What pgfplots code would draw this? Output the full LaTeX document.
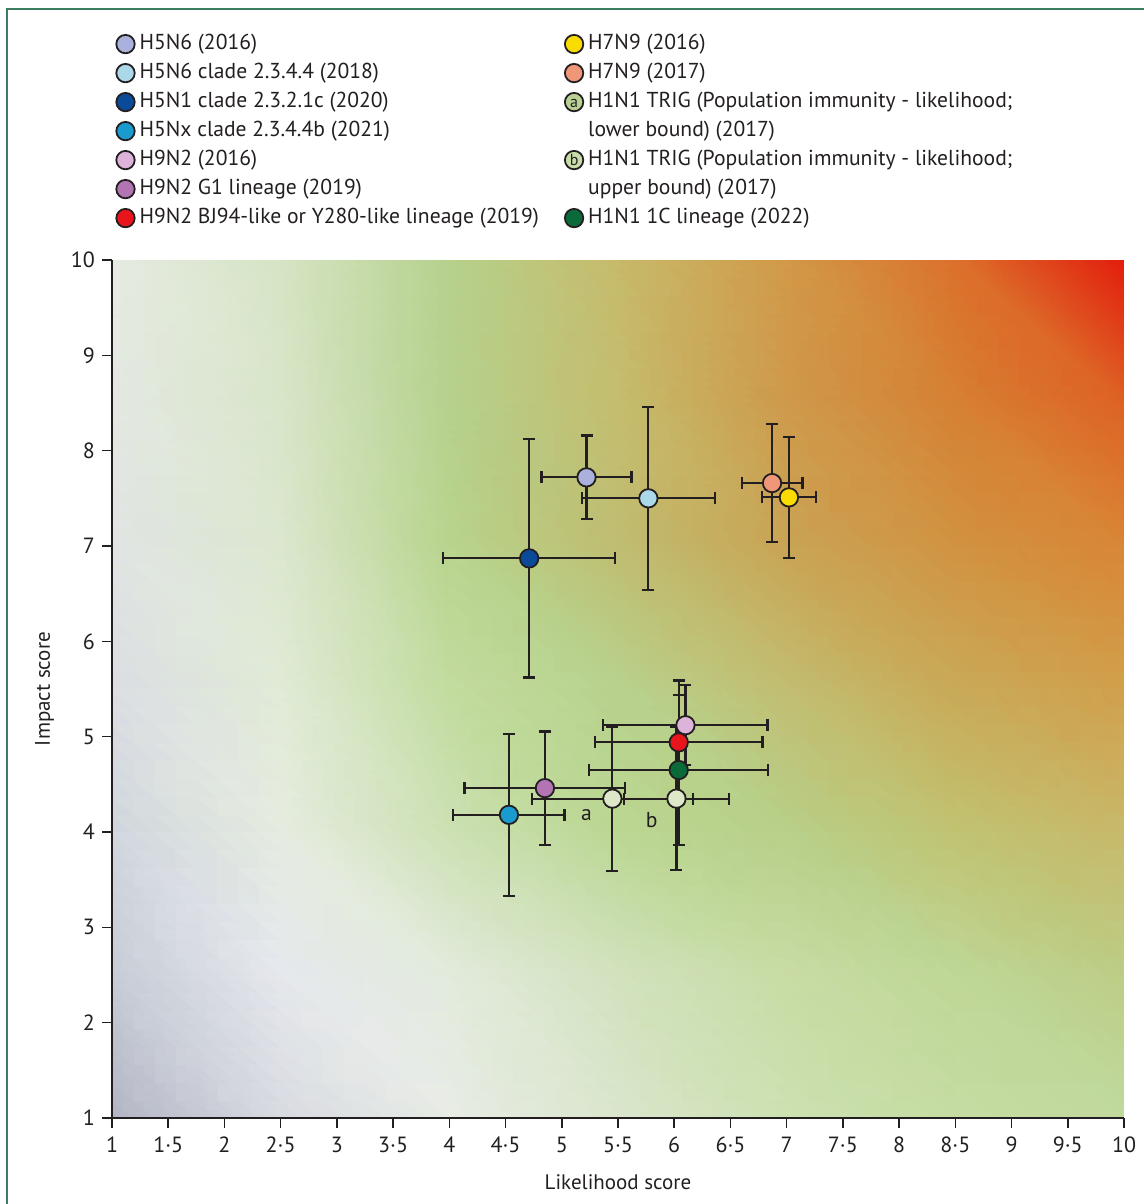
\documentclass[border=0pt]{standalone}
\usepackage{pgfplots}
\usepackage{pgfplotstable}
\pgfplotsset{compat=1.18}
\usepackage{fontspec}
\setmainfont{PT Sans}
\definecolor{txt}{HTML}{231F20}
\definecolor{frm}{HTML}{3B7D5E}
\definecolor{cA}{HTML}{A9B1DC}
\definecolor{cB}{HTML}{ABD9E9}
\definecolor{cC}{HTML}{0B4A98}
\definecolor{cD}{HTML}{1A9BCF}
\definecolor{cE}{HTML}{DDB3D9}
\definecolor{cF}{HTML}{B374B3}
\definecolor{cG}{HTML}{E8151C}
\definecolor{cH}{HTML}{FADC00}
\definecolor{cI}{HTML}{F09679}
\definecolor{cJ}{HTML}{DDE8C9}
\definecolor{cJa}{HTML}{B9D293}
\definecolor{cJb}{HTML}{C9DDA9}
\definecolor{cK}{HTML}{0A6A3A}

\pgfplotstableread{
x y ex ey c
5.22 7.72 0.40 0.44 A
5.77 7.50 0.59 0.96 B
4.71 6.87 0.765 1.25 C
4.53 4.18 0.495 0.85 D
6.10 5.12 0.73 0.42 E
4.85 4.46 0.715 0.595 F
6.04 4.94 0.745 0.65 G
7.02 7.51 0.24 0.635 H
6.87 7.66 0.27 0.62 I
5.45 4.35 0.715 0.755 J
6.02 4.35 0.465 0.75 J
6.04 4.65 0.795 0.785 K
}\pts

\pgfplotstableread{
x y c
1 1 rgb=.70,.71,.77
2.5 1 rgb=.85,.86,.885
4 1 rgb=.91,.925,.90
5.5 1 rgb=.855,.90,.80
7 1 rgb=.80,.88,.69
8.5 1 rgb=.77,.86,.63
10 1 rgb=.75,.85,.61
1 2.5 rgb=.78,.80,.84
2.5 2.5 rgb=.90,.91,.925
4 2.5 rgb=.885,.92,.86
5.5 2.5 rgb=.82,.885,.74
7 2.5 rgb=.78,.86,.64
8.5 2.5 rgb=.745,.84,.585
10 2.5 rgb=.74,.80,.52
1 4 rgb=.82,.84,.87
2.5 4 rgb=.90,.925,.875
4 4 rgb=.80,.88,.70
5.5 4 rgb=.73,.84,.57
7 4 rgb=.72,.81,.53
8.5 4 rgb=.755,.76,.44
10 4 rgb=.785,.72,.41
1 5.5 rgb=.86,.87,.89
2.5 5.5 rgb=.88,.92,.84
4 5.5 rgb=.76,.86,.62
5.5 5.5 rgb=.72,.82,.55
7 5.5 rgb=.76,.74,.44
8.5 5.5 rgb=.79,.66,.34
10 5.5 rgb=.82,.62,.29
1 7 rgb=.88,.895,.89
2.5 7 rgb=.86,.905,.81
4 7 rgb=.72,.83,.55
5.5 7 rgb=.75,.74,.44
7 7 rgb=.79,.64,.33
8.5 7 rgb=.82,.57,.25
10 7 rgb=.85,.52,.21
1 8.5 rgb=.89,.91,.885
2.5 8.5 rgb=.85,.90,.79
4 8.5 rgb=.71,.82,.55
5.5 8.5 rgb=.77,.74,.43
7 8.5 rgb=.81,.60,.29
8.5 8.5 rgb=.84,.50,.20
10 8.5 rgb=.87,.38,.14
1 10 rgb=.90,.92,.885
2.5 10 rgb=.84,.895,.77
4 10 rgb=.71,.82,.55
5.5 10 rgb=.78,.73,.42
7 10 rgb=.82,.60,.28
8.5 10 rgb=.86,.44,.17
10 10 rgb=.89,.11,.05
}\bg

\newcommand{\lf}{\fontsize{10.8}{13}\selectfont}

\begin{document}
\begin{tikzpicture}
\begin{axis}[name=ax, scale only axis, width=506pt, height=429pt,
  xmin=1, xmax=10, ymin=1, ymax=10,
  axis lines*=left, axis line style={-, line width=1pt, draw=txt},
  axis on top,
  tick align=outside, major tick length=5pt,
  tick style={line width=0.8pt, draw=txt},
  xtick={1,1.5,2,2.5,3,3.5,4,4.5,5,5.5,6,6.5,7,7.5,8,8.5,9,9.5,10},
  xticklabels={1,1·5,2,2·5,3,3·5,4,4·5,5,5·5,6,6·5,7,7·5,8,8·5,9,9·5,10},
  ytick={1,2,3,4,5,6,7,8,9,10},
  /pgf/number format/assume math mode=true,
  ticklabel style={font=\fontsize{11}{13}\selectfont, text=txt},
  xticklabel style={yshift=-1pt},
  legend columns=2,
  legend cell align=left,
  legend style={at={(rel axis cs:0,1)}, anchor=south west, xshift=1.5pt, yshift=15pt,
    draw=none, fill=none, inner sep=0pt, font=\lf, text=txt,
    nodes={inner xsep=2pt, inner ysep=0pt, text height=8.5pt, text depth=3pt},
    row sep=3pt,
    /tikz/every even column/.append style={column sep=10.5pt}},
]
\addplot[surf, shader=interp, mesh/color input=explicit, point meta=explicit symbolic,
  mesh/cols=7, mesh/rows=7, forget plot] table[x=x, y=y, meta=c] {\bg};

\addplot[only marks, mark=*, mark size=0.01pt, mark options={draw=none, fill=none}, forget plot,
  error bars/.cd, x dir=both, x explicit, y dir=both, y explicit,
  error mark=|,
  error bar style={line width=1.1pt, draw=txt},
  error mark options={line width=1.1pt, draw=txt, mark size=3pt}]
  table[x=x, y=y, x error=ex, y error=ey] {\pts};

\addplot[scatter, only marks, forget plot, mark size=4.6pt,
  scatter src=explicit symbolic,
  scatter/classes={
    A={mark=*, draw=txt, line width=0.9pt, fill=cA},
    B={mark=*, draw=txt, line width=0.9pt, fill=cB},
    C={mark=*, draw=txt, line width=0.9pt, fill=cC},
    D={mark=*, draw=txt, line width=0.9pt, fill=cD},
    E={mark=*, draw=txt, line width=0.9pt, fill=cE},
    F={mark=*, draw=txt, line width=0.9pt, fill=cF},
    G={mark=*, draw=txt, line width=0.9pt, fill=cG},
    H={mark=*, draw=txt, line width=0.9pt, fill=cH},
    I={mark=*, draw=txt, line width=0.9pt, fill=cI},
    J={mark=*, draw=txt, line width=0.9pt, fill=cJ},
    K={mark=*, draw=txt, line width=0.9pt, fill=cK}}]
  table[x=x, y=y, meta=c] {\pts};

\node[font=\lf, text=txt] at (axis cs:5.22,4.18) {a};
\node[font=\lf, text=txt] at (axis cs:5.80,4.13) {b};

\addlegendimage{legend image code/.code={\draw[draw=txt, line width=0.9pt, fill=cA] (4.6pt,0pt) circle (4.6pt);}}
\addlegendentry{H5N6 (2016)}
\addlegendimage{legend image code/.code={\draw[draw=txt, line width=0.9pt, fill=cH] (4.6pt,0pt) circle (4.6pt);}}
\addlegendentry{H7N9 (2016)}
\addlegendimage{legend image code/.code={\draw[draw=txt, line width=0.9pt, fill=cB] (4.6pt,0pt) circle (4.6pt);}}
\addlegendentry{H5N6 clade 2.3.4.4 (2018)}
\addlegendimage{legend image code/.code={\draw[draw=txt, line width=0.9pt, fill=cI] (4.6pt,0pt) circle (4.6pt);}}
\addlegendentry{H7N9 (2017)}
\addlegendimage{legend image code/.code={\draw[draw=txt, line width=0.9pt, fill=cC] (4.6pt,0pt) circle (4.6pt);}}
\addlegendentry{H5N1 clade 2.3.2.1c (2020)}
\addlegendimage{legend image code/.code={\draw[draw=txt, line width=0.9pt, fill=cJa] (4.6pt,0pt) circle (4.6pt); \node[font=\fontsize{8}{8}\selectfont, text=txt, inner sep=0pt, anchor=center] at (4.6pt,0pt) {a};}}
\addlegendentry{H1N1 TRIG (Population immunity - likelihood;}
\addlegendimage{legend image code/.code={\draw[draw=txt, line width=0.9pt, fill=cD] (4.6pt,0pt) circle (4.6pt);}}
\addlegendentry{H5Nx clade 2.3.4.4b (2021)}
\addlegendimage{empty legend}
\addlegendentry{lower bound) (2017)}
\addlegendimage{legend image code/.code={\draw[draw=txt, line width=0.9pt, fill=cE] (4.6pt,0pt) circle (4.6pt);}}
\addlegendentry{H9N2 (2016)}
\addlegendimage{legend image code/.code={\draw[draw=txt, line width=0.9pt, fill=cJb] (4.6pt,0pt) circle (4.6pt); \node[font=\fontsize{8}{8}\selectfont, text=txt, inner sep=0pt, anchor=center] at (4.6pt,0pt) {b};}}
\addlegendentry{H1N1 TRIG (Population immunity - likelihood;}
\addlegendimage{legend image code/.code={\draw[draw=txt, line width=0.9pt, fill=cF] (4.6pt,0pt) circle (4.6pt);}}
\addlegendentry{H9N2 G1 lineage (2019)}
\addlegendimage{empty legend}
\addlegendentry{upper bound) (2017)}
\addlegendimage{legend image code/.code={\draw[draw=txt, line width=0.9pt, fill=cG] (4.6pt,0pt) circle (4.6pt);}}
\addlegendentry{H9N2 BJ94-like or Y280-like lineage (2019)}
\addlegendimage{legend image code/.code={\draw[draw=txt, line width=0.9pt, fill=cK] (4.6pt,0pt) circle (4.6pt);}}
\addlegendentry{H1N1 1C lineage (2022)}
\end{axis}
\node[anchor=base, font=\fontsize{10.5}{13}\selectfont, text=txt] at ([yshift=-36pt]ax.south) {Likelihood score};
\node[anchor=base, rotate=90, font=\fontsize{10.5}{13}\selectfont, text=txt] at ([xshift=-31pt]ax.west) {Impact score};
\pgfresetboundingbox
\useasboundingbox ([xshift=-56pt,yshift=-43pt]ax.south west) rectangle ([xshift=10pt,yshift=130pt]ax.north east);
\draw[frm, line width=0.8pt] ([xshift=-52.5pt,yshift=-60pt]ax.south west) -- ([xshift=-52.5pt,yshift=125.5pt]ax.north west) -- ([xshift=30pt,yshift=125.5pt]ax.north east);
\end{tikzpicture}
\end{document}
